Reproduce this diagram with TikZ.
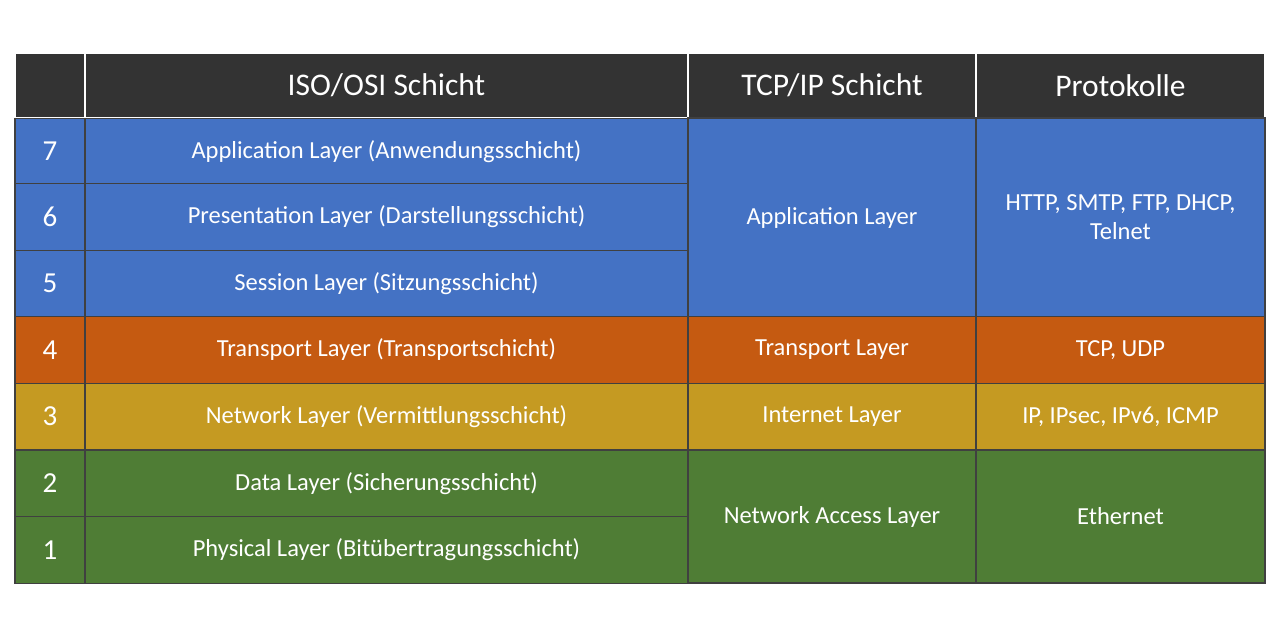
\documentclass[tikz,border=0pt]{standalone}
\usepackage{fontspec}
\setmainfont{Carlito}
\usetikzlibrary{positioning}
\definecolor{headgray}{HTML}{333333}
\definecolor{layblue}{HTML}{4472C4}
\definecolor{layorange}{HTML}{C55A11}
\definecolor{laygold}{HTML}{C59A22}
\definecolor{laygreen}{HTML}{4F7D35}
\tikzset{
  cell/.style={draw=black!75, line width=1.2pt, text=white, inner sep=0pt, align=center, font=\fontsize{24.5}{29}\selectfont},
  head/.style={cell, draw=white, fill=headgray, font=\fontsize{31.5}{36}\selectfont},
  num/.style={cell, font=\fontsize{29}{34}\selectfont}
}
\begin{document}
\begin{tikzpicture}[x=1pt,y=-1pt]
  \useasboundingbox[fill=white] (0,0) rectangle (1280,640);

  % header
  \node (h0)[head, minimum width=70pt, minimum height=65pt] at (50,85.5) {};
  \node (h1)[head, minimum width=603pt, minimum height=65pt] at (386.5,85.5) {ISO/OSI Schicht};
  \node (h2)[head, minimum width=288pt, minimum height=65pt] at (832,85.5) {TCP/IP Schicht};
  \node (h3)[head, minimum width=289pt, minimum height=65pt] at (1120.5,85.5) {Protokolle};

  % layer numbers
  \foreach \n/\y/\col in {7/151.5/layblue, 6/217/layblue, 5/283.5/layblue, 4/350/layorange,
                          3/416.5/laygold, 2/483.5/laygreen, 1/550/laygreen}
    \node (n\n)[num, fill=\col, minimum width=70pt, minimum height=66.5pt] at (50,\y) {\n};

  % ISO/OSI column
  \node (o7)[cell, fill=layblue, minimum width=603pt, minimum height=66.5pt] at (386.5,151.5) {Application Layer (Anwendungsschicht)};
  \node (o6)[cell, fill=layblue, minimum width=603pt, minimum height=66.5pt] at (386.5,217) {Presentation Layer (Darstellungsschicht)};
  \node (o5)[cell, fill=layblue, minimum width=603pt, minimum height=66.5pt] at (386.5,283.5) {Session Layer (Sitzungsschicht)};
  \node (o4)[cell, fill=layorange, minimum width=603pt, minimum height=66.5pt] at (386.5,350) {Transport Layer (Transportschicht)};
  \node (o3)[cell, fill=laygold, minimum width=603pt, minimum height=66.5pt] at (386.5,416.5) {Network Layer (Vermittlungsschicht)};
  \node (o2)[cell, fill=laygreen, minimum width=603pt, minimum height=66.5pt] at (386.5,483.5) {Data Layer (Sicherungsschicht)};
  \node (o1)[cell, fill=laygreen, minimum width=603pt, minimum height=66.5pt] at (386.5,550) {Physical Layer (Bitübertragungsschicht)};

  % TCP/IP column
  \node (t1)[cell, fill=layblue, minimum width=288pt, minimum height=199pt] at (832,217.5) {Application Layer};
  \node (t2)[cell, fill=layorange, minimum width=288pt, minimum height=66.5pt] at (832,350) {Transport Layer};
  \node (t3)[cell, fill=laygold, minimum width=288pt, minimum height=66.5pt] at (832,416.5) {Internet Layer};
  \node (t4)[cell, fill=laygreen, minimum width=288pt, minimum height=133pt] at (832,516.5) {Network Access Layer};

  % protocols
  \node (p1)[cell, fill=layblue, minimum width=289pt, minimum height=199pt] at (1120.5,217.5) {HTTP, SMTP, FTP, DHCP,\\Telnet};
  \node (p2)[cell, fill=layorange, minimum width=289pt, minimum height=66.5pt] at (1120.5,350) {TCP, UDP};
  \node (p3)[cell, fill=laygold, minimum width=289pt, minimum height=66.5pt] at (1120.5,416.5) {IP, IPsec, IPv6, ICMP};
  \node (p4)[cell, fill=laygreen, minimum width=289pt, minimum height=133pt] at (1120.5,516.5) {Ethernet};
\end{tikzpicture}
\end{document}
